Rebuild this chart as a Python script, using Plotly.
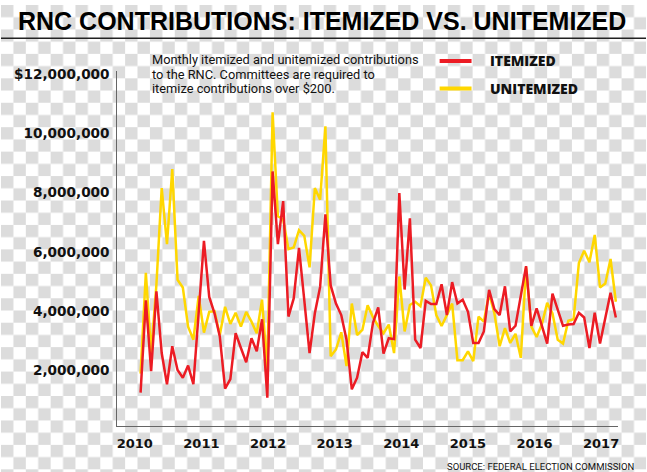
import base64
import plotly.graph_objects as go

# ---------------- data (monthly, in $ millions) ----------------
itemized_m = [1.26, 4.37, 1.98, 4.67, 2.59, 1.54, 2.82, 2.02, 1.76, 2.17,
              1.54, 3.9, 6.37, 4.48, 3.93, 3.15, 1.39, 1.71, 3.26, 2.76,
              2.28, 3.09, 2.65, 3.73, 1.09, 8.71, 6.26, 7.71, 3.82, 4.43,
              6.13, 4.37, 2.59, 3.93, 4.82, 7.26, 4.87, 4.26, 3.87, 3.04,
              1.37, 1.76, 2.62, 2.43, 3.6, 4.13, 2.57, 3.09, 3.06, 7.98,
              4.73, 7.13, 3.04, 2.76, 4.35, 4.24, 4.24, 4.91, 3.87, 4.98,
              4.26, 4.39, 3.98, 2.93, 2.93, 3.32, 4.72, 4.07, 3.87, 4.84,
              3.32, 3.51, 4.59, 5.52, 3.51, 4.1, 3.51, 2.91, 4.59, 4.04,
              3.51, 3.55, 3.57, 3.95, 3.79, 2.76, 3.95, 2.91, 3.82, 4.62,
              3.79]
unitemized_m = [1.9, 5.29, 2.59, 4.9, 8.15, 6.26, 8.79, 5.06, 4.8, 3.48,
                3.04, 4.52, 3.28, 3.98, 4.0, 3.2, 4.15, 3.57, 3.95, 3.48,
                3.98, 3.65, 3.26, 4.39, 2.0, 10.7, 7.2, 7.1, 6.09, 6.15,
                6.73, 6.54, 5.48, 8.15, 7.76, 10.23, 2.48, 2.71, 3.29, 2.15,
                4.26, 3.2, 3.37, 4.2, 3.8, 3.5, 3.26, 3.55, 2.59, 5.17,
                3.32, 4.21, 4.32, 4.17, 5.13, 4.87, 3.87, 3.5, 3.87, 4.26,
                2.35, 2.35, 2.65, 2.32, 3.82, 3.65, 4.6, 3.93, 2.82, 3.43,
                2.93, 3.24, 2.43, 5.48, 3.48, 3.13, 3.57, 4.28, 3.93, 3.04,
                2.91, 3.68, 3.73, 5.62, 6.04, 5.65, 6.57, 4.8, 4.93, 5.76,
                4.32]
month_index = list(range(len(itemized_m)))
year_labels = ["2010", "2011", "2012", "2013", "2014", "2015", "2016", "2017"]
y_tick_values = [2e6, 4e6, 6e6, 8e6, 10e6, 12e6]
y_tick_labels = ["2,000,000", "4,000,000", "6,000,000", "8,000,000",
                 "10,000,000", "$12,000,000"]
series_names = ["ITEMIZED", "UNITEMIZED"]

# ---------------- styling ----------------
W, H = 647, 472
RED = "#ec1c24"
YELLOW = "#ffd700"
GRAY = "#dcdcdc"


def px_x(p):
    return p / W


def px_y(p):
    return 1 - p / H


# checkerboard background
tx, ty = 12.45, 12.35
svg = (f'<svg xmlns="http://www.w3.org/2000/svg" width="{W}" height="{H}">'
       f'<defs><pattern id="p" width="{2*tx}" height="{2*ty}" patternUnits="userSpaceOnUse">'
       f'<rect width="{2*tx}" height="{2*ty}" fill="#ffffff"/>'
       f'<rect width="{tx}" height="{ty}" fill="{GRAY}"/>'
       f'<rect x="{tx}" y="{ty}" width="{tx}" height="{ty}" fill="{GRAY}"/>'
       f'</pattern></defs><rect width="{W}" height="{H}" fill="url(#p)"/></svg>')
bg_src = "data:image/svg+xml;base64," + base64.b64encode(svg.encode()).decode()

fig = go.Figure()
fig.add_trace(go.Scatter(x=month_index, y=[v * 1e6 for v in unitemized_m],
                         mode="lines", name=series_names[1],
                         line=dict(color=YELLOW, width=2.5)))
fig.add_trace(go.Scatter(x=month_index, y=[v * 1e6 for v in itemized_m],
                         mode="lines", name=series_names[0],
                         line=dict(color=RED, width=2.5)))

tick_pos = [-1.1 + 12.616 * k for k in range(len(year_labels))]

fig.update_layout(
    width=W, height=H,
    margin=dict(l=0, r=0, t=0, b=0),
    paper_bgcolor="white",
    plot_bgcolor="rgba(0,0,0,0)",
    showlegend=False,
    images=[dict(source=bg_src, xref="paper", yref="paper", x=0, y=1,
                 sizex=1, sizey=1, xanchor="left", yanchor="top",
                 sizing="stretch", layer="below")],
    xaxis=dict(domain=[px_x(116.6), px_x(618.6)], range=[-4.42, 90.35],
               showline=True, linecolor="#666666", linewidth=1,
               showgrid=False, zeroline=False, ticks="",
               tickvals=tick_pos, ticktext=year_labels,
               ticklabelstandoff=5,
               tickfont=dict(family="DejaVu Sans", size=13, color="#111111",
                             weight=700)),
    yaxis=dict(domain=[1 - 426 / H, 1 - 66.7 / H], range=[0.117e6, 12.093e6],
               showline=True, linecolor="#666666", linewidth=1,
               showgrid=False, zeroline=False, ticks="",
               tickvals=y_tick_values, ticktext=y_tick_labels,
               ticklabelstandoff=4,
               tickfont=dict(family="DejaVu Sans", size=13.6, color="#111111",
                             weight=700)),
)

# title and rule
fig.add_annotation(text="RNC CONTRIBUTIONS: ITEMIZED VS. UNITEMIZED",
                   xref="paper", yref="paper", x=px_x(322), y=px_y(16),
                   xanchor="center", yanchor="middle", showarrow=False,
                   font=dict(family="Liberation Sans", size=25,
                             color="#000000", weight=700))
fig.add_shape(type="line", xref="paper", yref="paper", x0=0, x1=1,
              y0=px_y(33.5), y1=px_y(33.5),
              line=dict(color="#222222", width=1.5))

# description
desc_lines = ["Monthly itemized and unitemized contributions",
              "to the RNC. Committees are required to",
              "itemize contributions over $200."]
for k, line in enumerate(desc_lines):
    fig.add_annotation(text=line, xref="paper", yref="paper",
                       x=px_x(149), y=px_y(55.5 + 14.5 * k),
                       xanchor="left", yanchor="middle", showarrow=False,
                       font=dict(family="Roboto", size=12.8, color="#111111"))

# legend
for k, (name, col) in enumerate(zip(series_names, [RED, YELLOW])):
    yy = 56.5 + 28 * k
    fig.add_shape(type="line", xref="paper", yref="paper",
                  x0=px_x(440), x1=px_x(472), y0=px_y(yy), y1=px_y(yy),
                  line=dict(color=col, width=4))
    fig.add_annotation(text=name, xref="paper", yref="paper",
                       x=px_x(489), y=px_y(yy), xanchor="left",
                       yanchor="middle", showarrow=False,
                       font=dict(family="Open Sans", size=14, color="#111111",
                                 weight=800))

# source
fig.add_annotation(text="SOURCE: FEDERAL ELECTION COMMISSION",
                   xref="paper", yref="paper", x=px_x(637), y=px_y(466),
                   xanchor="right", yanchor="middle", showarrow=False,
                   font=dict(family="Roboto", size=9.5, color="#111111"))

fig.write_html("out.html",
               config={"displayModeBar": False, "staticPlot": True},
               post_script="document.body.style.margin='0';"
                           "document.body.style.overflow='hidden';")
